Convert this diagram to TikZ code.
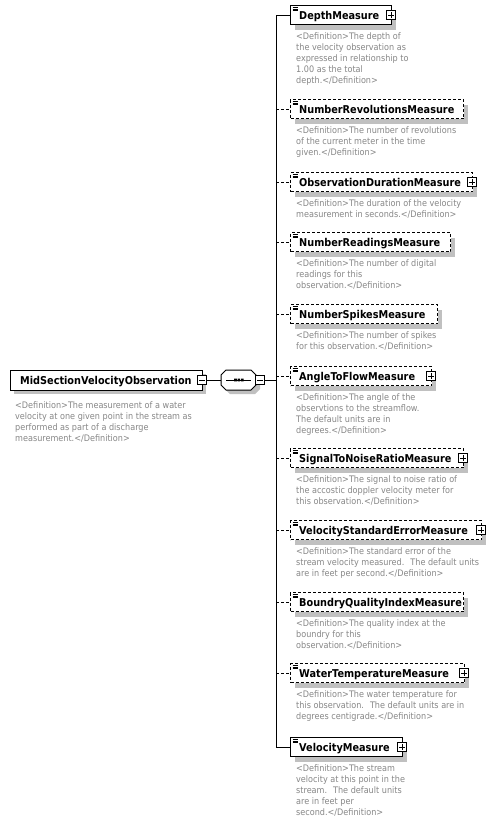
\documentclass[tikz,border=0pt]{standalone}
\usepackage{fontspec}
\newfontfamily\cfont{DejaVu Sans}[FakeStretch=0.9]
\definecolor{dgray}{RGB}{135,135,135}
\definecolor{shad}{RGB}{192,192,192}
\tikzset{
  reqbox/.style={draw, line width=1pt, fill=white, rectangle, minimum height=19pt, inner sep=0pt},
  optbox/.style={reqbox, dash pattern=on 3pt off 2pt},
  ttl/.style={font=\cfont\bfseries\fontsize{10.8}{13}\selectfont, inner sep=0pt, anchor=base west},
  dsc/.style={font=\cfont\fontsize{9}{11}\selectfont, text=dgray, inner sep=0pt, align=left, anchor=north west},
  pmbox/.style={draw, line width=1pt, fill=white, minimum size=9pt, inner sep=0pt},
  reqconn/.style={line width=1pt},
  optconn/.style={line width=1pt, dash pattern=on 3pt off 2pt},
  icon/.style={line width=0.7pt},
}
\newcommand\mkchild[7]{%
  \fill[shad] (295,#2-4.5) rectangle (#3+5,#2+14.5);
  \node[#4box, anchor=west, minimum width={(#3-290)*1pt}] (#1) at (290,#2) {};
  \draw[icon] (292.5,#2-7.8) -- ++(5,0) (292.5,#2-6) -- ++(5,0) (292.5,#2-4.2) -- ++(5,0);
  \node[ttl] (#1t) at (299,#2+4) {#6};
  \ifnum#5=1
    \node[pmbox] (#1p) at (#3,#2) {};
    \draw[line width=1pt] ([xshift=-3pt]#1p.center) -- ([xshift=3pt]#1p.center)
      ([yshift=-3pt]#1p.center) -- ([yshift=3pt]#1p.center);
  \fi
  \node[dsc] (#1d) at (296,#2+17) {#7};
  \draw[#4conn] (#1.west -| bus) -- (#1.west);
}
\begin{document}
\begin{tikzpicture}[x=1pt,y=-1pt]
\useasboundingbox (0,0) rectangle (494,823);
\fill[white] (0,0) rectangle (494,823);
% root
\fill[shad] (14,374) rectangle (206,394);
\node[reqbox, anchor=west, minimum width=192pt, minimum height=20pt] (root) at (10,380) {};
\node[ttl] (roott) at (20,384) {MidSectionVelocityObservation};
\node[pmbox] (rootm) at (202,380) {};
\draw[line width=1pt] ([xshift=-3pt]rootm.center) -- ([xshift=3pt]rootm.center);
\node[dsc] (rootd) at (15,401) {<Definition>The measurement of a water\\velocity at one given point in the stream as\\performed as part of a discharge\\measurement.</Definition>};
% sequence
\fill[shad] (230,374) -- (255,374) -- (260,379) -- (260,389) -- (255,394) -- (230,394) -- (225,389) -- (225,379) -- cycle;
\draw[line width=1pt, fill=white] (226,370) -- (251,370) -- (256,375) -- (256,385) -- (251,390) -- (226,390) -- (221,385) -- (221,375) -- cycle;
\node[inner sep=0pt, minimum width=35pt, minimum height=20pt] (seq) at (238.5,380) {};
\draw[line width=1pt] (226,380) -- (251,380);
\fill (234.2,378.7) rectangle ++(2.6,2.6) (237.6,378.7) rectangle ++(2.6,2.6) (241,378.7) rectangle ++(2.6,2.6);
\node[pmbox] (seqm) at (260,380) {};
\draw[line width=1pt] ([xshift=-3pt]seqm.center) -- ([xshift=3pt]seqm.center);
\draw[reqconn] (rootm.east) -- (seq.west);
\coordinate (bus) at (276,380);
\draw[reqconn] (seqm.east) -- (bus);
% children
\mkchild{b1}{15}{391}{req}{1}{DepthMeasure}{<Definition>The depth of\\the velocity observation as\\expressed in relationship to\\1.00 as the total\\depth.</Definition>}
\mkchild{b2}{109}{463}{opt}{0}{NumberRevolutionsMeasure}{<Definition>The number of revolutions\\of the current meter in the time\\given.</Definition>}
\mkchild{b3}{182}{472}{opt}{1}{ObservationDurationMeasure}{<Definition>The duration of the velocity\\measurement in seconds.</Definition>}
\mkchild{b4}{242}{450}{opt}{0}{NumberReadingsMeasure}{<Definition>The number of digital\\readings for this\\observation.</Definition>}
\mkchild{b5}{314}{437}{opt}{0}{NumberSpikesMeasure}{<Definition>The number of spikes\\for this observation.</Definition>}
\mkchild{b6}{376}{431}{opt}{1}{AngleToFlowMeasure}{<Definition>The angle of the\\observtions to the streamflow.\\The default units are in\\degrees.</Definition>}
\mkchild{b7}{458}{463}{opt}{1}{SignalToNoiseRatioMeasure}{<Definition>The signal to noise ratio of\\the accostic doppler velocity meter for\\this observation.</Definition>}
\mkchild{b8}{530}{481}{opt}{1}{VelocityStandardErrorMeasure}{<Definition>The standard error of the\\stream velocity measured.~ The default units\\are in feet per second.</Definition>}
\mkchild{b9}{602}{463}{opt}{0}{BoundryQualityIndexMeasure}{<Definition>The quality index at the\\boundry for this\\observation.</Definition>}
\mkchild{b10}{673}{464}{opt}{1}{WaterTemperatureMeasure}{<Definition>The water temperature for\\this observation.~ The default units are in\\degrees centigrade.</Definition>}
\mkchild{b11}{747}{402}{req}{1}{VelocityMeasure}{<Definition>The stream\\velocity at this point in the\\stream.~ The default units\\are in feet per\\second.</Definition>}
\draw[reqconn] (b1.west -| bus) -- (b11.west -| bus);
\end{tikzpicture}
\end{document}
